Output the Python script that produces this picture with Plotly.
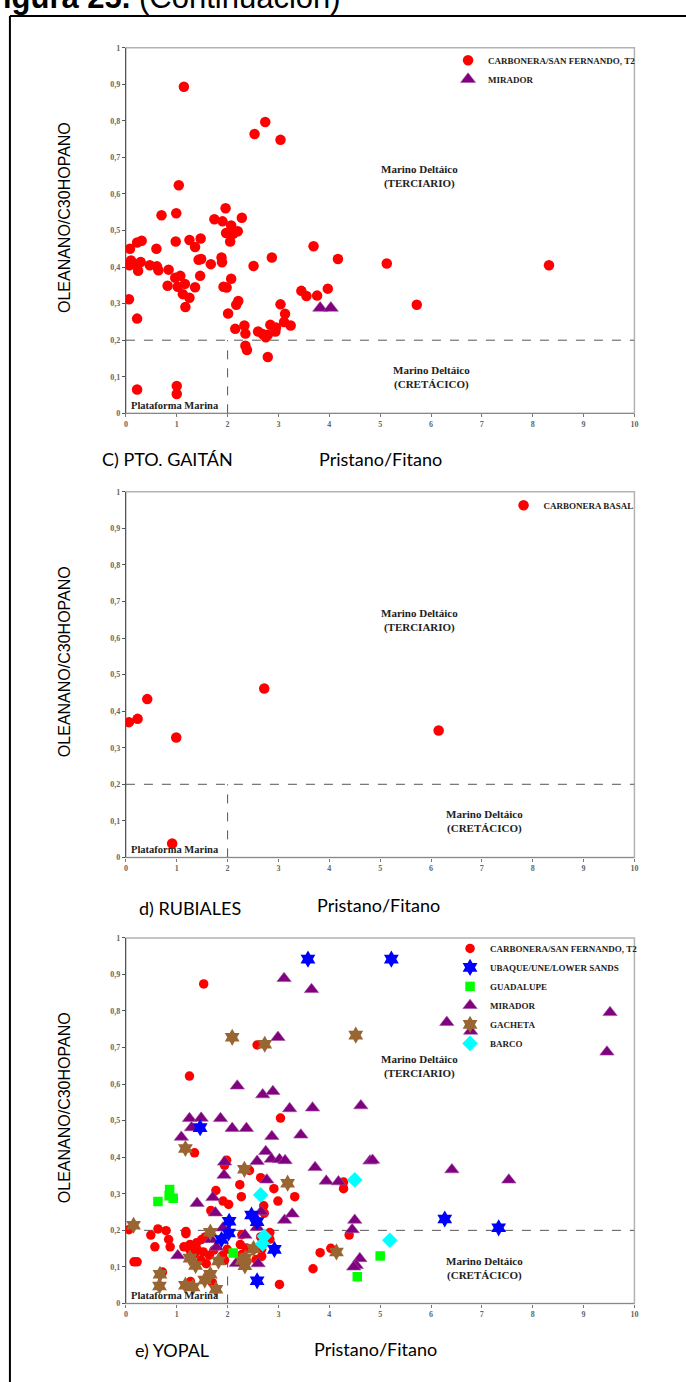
import plotly.graph_objects as go

W, H = 686, 1382

# ---------------- C) PTO. GAITÁN ----------------
gaitan_carbonera_x = [1.14, 2.74, 2.53, 3.04, 1.04, 0.70, 0.99, 1.96, 1.74, 1.90, 2.28, 2.07, 1.97, 2.20,
                      2.11, 2.05, 0.08, 0.22, 0.31, 0.60, 0.98, 1.25, 1.36, 1.47, 0.10, 0.07, 0.29, 0.22,
                      0.24, 0.47, 0.61, 0.64, 0.84, 0.82, 0.97, 1.07, 1.02, 1.16, 1.12, 1.25, 1.17, 1.36,
                      1.46, 1.43, 1.48, 1.67, 1.88, 1.89, 1.92, 1.98, 2.07, 2.01, 2.17, 2.21, 2.15, 2.33,
                      2.35, 2.35, 2.38, 2.51, 2.87, 2.60, 2.69, 2.75, 2.79, 2.84, 2.95, 2.94, 3.04, 3.13,
                      3.11, 3.24, 2.79, 3.45, 3.55, 3.76, 3.69, 3.97, 4.17, 5.13, 5.72, 8.32, 0.06, 0.22,
                      0.22, 1.00, 1.00]
gaitan_carbonera_y = [0.893, 0.797, 0.764, 0.748, 0.624, 0.542, 0.547, 0.561, 0.531, 0.525, 0.535, 0.514,
                      0.493, 0.498, 0.491, 0.470, 0.450, 0.467, 0.472, 0.450, 0.470, 0.474, 0.455, 0.478,
                      0.418, 0.405, 0.414, 0.405, 0.390, 0.405, 0.402, 0.391, 0.393, 0.349, 0.371, 0.376,
                      0.346, 0.354, 0.326, 0.316, 0.291, 0.345, 0.376, 0.420, 0.422, 0.408, 0.426, 0.413,
                      0.346, 0.344, 0.368, 0.273, 0.297, 0.307, 0.231, 0.240, 0.218, 0.185, 0.173, 0.403,
                      0.426, 0.224, 0.217, 0.208, 0.215, 0.242, 0.235, 0.224, 0.298, 0.272, 0.250, 0.240,
                      0.154, 0.335, 0.321, 0.322, 0.457, 0.341, 0.422, 0.410, 0.297, 0.405, 0.312, 0.259,
                      0.065, 0.075, 0.053]
gaitan_mirador_x = [3.82, 4.03]
gaitan_mirador_y = [0.288, 0.288]

# ---------------- d) RUBIALES ----------------
rubiales_basal_x = [0.06, 0.23, 0.42, 0.99, 2.72, 6.15, 0.91]
rubiales_basal_y = [0.370, 0.379, 0.433, 0.328, 0.462, 0.347, 0.038]

# ---------------- e) YOPAL ----------------
yopal_carbonera_x = [1.53, 2.58, 1.25, 3.04, 1.35, 1.98, 1.94, 2.43, 2.65, 2.24, 2.91, 4.28, 4.28, 1.77,
                     2.27, 3.32, 1.91, 2.02, 2.99, 2.71, 1.67, 2.72, 0.06, 0.63, 0.79, 1.18, 1.18, 0.49,
                     0.84, 0.57, 0.87, 1.14, 1.26, 1.39, 1.49, 1.56, 1.26, 1.40, 1.52, 1.36, 1.64, 1.73,
                     1.90, 1.99, 1.94, 1.48, 1.58, 0.16, 0.22, 0.72, 1.27, 1.70, 2.25, 2.37, 2.28, 2.83,
                     2.83, 2.67, 2.67, 2.56, 2.65, 4.39, 4.03, 3.82, 3.68, 3.02, 2.28]
yopal_carbonera_y = [0.874, 0.707, 0.622, 0.507, 0.412, 0.392, 0.378, 0.364, 0.344, 0.325, 0.314, 0.332,
                     0.314, 0.309, 0.292, 0.292, 0.280, 0.271, 0.280, 0.267, 0.254, 0.247, 0.202, 0.204,
                     0.199, 0.197, 0.191, 0.187, 0.175, 0.155, 0.155, 0.155, 0.161, 0.166, 0.175, 0.182,
                     0.146, 0.148, 0.141, 0.136, 0.132, 0.146, 0.131, 0.148, 0.118, 0.118, 0.109, 0.114,
                     0.114, 0.086, 0.060, 0.057, 0.161, 0.152, 0.188, 0.194, 0.176, 0.148, 0.129, 0.120,
                     0.182, 0.187, 0.151, 0.139, 0.095, 0.052, 0.134]
yopal_ubaque_x = [3.58, 5.22, 1.46, 6.27, 7.33, 2.03, 2.02, 1.88, 2.47, 2.58, 2.92, 2.58]
yopal_ubaque_y = [0.942, 0.942, 0.481, 0.231, 0.207, 0.225, 0.193, 0.175, 0.242, 0.224, 0.148, 0.062]
yopal_guadalupe_x = [0.63, 0.86, 0.85, 0.93, 2.11, 5.00, 4.55]
yopal_guadalupe_y = [0.279, 0.312, 0.295, 0.288, 0.138, 0.130, 0.073]
yopal_mirador_x = [3.11, 3.65, 2.99, 6.31, 6.78, 9.52, 9.46, 2.19, 2.69, 2.89, 3.22, 3.67, 4.62, 1.25,
                   1.48, 1.29, 1.86, 2.09, 2.37, 1.09, 2.87, 3.44, 2.75, 2.86, 3.02, 3.13, 2.58, 1.94,
                   4.80, 4.85, 3.72, 6.41, 1.93, 2.77, 3.94, 4.18, 7.53, 1.40, 1.71, 1.76, 2.66, 3.12,
                   3.27, 4.50, 4.45, 1.91, 2.34, 1.68, 1.78, 1.02, 2.58, 2.17, 2.60, 4.60, 4.53, 4.48]
yopal_mirador_y = [0.889, 0.859, 0.728, 0.769, 0.745, 0.796, 0.688, 0.595, 0.571, 0.580, 0.533, 0.535,
                   0.541, 0.506, 0.507, 0.481, 0.506, 0.479, 0.479, 0.455, 0.457, 0.461, 0.416, 0.395,
                   0.394, 0.391, 0.389, 0.387, 0.390, 0.392, 0.372, 0.366, 0.351, 0.338, 0.335, 0.333,
                   0.338, 0.274, 0.290, 0.248, 0.251, 0.228, 0.245, 0.228, 0.202, 0.207, 0.187, 0.175,
                   0.154, 0.131, 0.208, 0.110, 0.109, 0.123, 0.104, 0.100]
yopal_gacheta_x = [2.09, 2.73, 4.52, 1.17, 2.33, 3.18, 0.15, 4.14, 1.66, 2.51, 1.26, 1.37, 1.82, 2.28,
                   2.34, 0.67, 0.66, 1.17, 1.32, 1.55, 1.66, 1.77, 2.35]
yopal_gacheta_y = [0.728, 0.709, 0.734, 0.424, 0.367, 0.329, 0.214, 0.141, 0.195, 0.150, 0.124, 0.104,
                   0.116, 0.118, 0.103, 0.080, 0.048, 0.050, 0.045, 0.064, 0.080, 0.039, 0.125]
yopal_barco_x = [4.50, 2.65, 2.72, 2.69, 5.19]
yopal_barco_y = [0.338, 0.297, 0.184, 0.163, 0.173]

# axis ticks
x_ticks = list(range(0, 11))
y_ticks = [0, 0.1, 0.2, 0.3, 0.4, 0.5, 0.6, 0.7, 0.8, 0.9, 1]
y_ticktext = ["0", "0,1", "0,2", "0,3", "0,4", "0,5", "0,6", "0,7", "0,8", "0,9", "1"]

# field boundaries
OLEANANE_LIMIT = 0.2
PR_PH_LIMIT = 2

# ---------------- layout geometry (pixels) ----------------
PLOT_LEFT, PLOT_RIGHT = 125, 638
PANELS = [(44, 412), (491, 859), (940, 1308)]


def fx(px):
    return px / W


def fy(py):
    return 1 - py / H


RED, PURPLE, BLUE, GREEN, BROWN, CYAN = "#ff0000", "#800080", "#0000ff", "#00ff00", "#996633", "#00ffff"
SERIF = "Liberation Serif"

fig = go.Figure()


def add(xs, ys, name, symbol, color, size, panel, edge=None):
    sfx = "" if panel == 1 else str(panel)
    fig.add_trace(go.Scatter(
        x=xs, y=ys, mode="markers", name=name,
        xaxis="x" + sfx, yaxis="y" + sfx, legend="legend" + sfx,
        marker=dict(symbol=symbol, color=color, size=size,
                    line=dict(width=0.6 if edge else 0, color=edge or color)),
        showlegend=True,
    ))


add(gaitan_carbonera_x, gaitan_carbonera_y, "CARBONERA/SAN FERNANDO, T2", "circle", RED, 10.5, 1)
add(gaitan_mirador_x, gaitan_mirador_y, "MIRADOR", "triangle-up", PURPLE, 13, 1, "#a050a0")

add(rubiales_basal_x, rubiales_basal_y, "CARBONERA BASAL", "circle", RED, 10.5, 2)

add(yopal_carbonera_x, yopal_carbonera_y, "CARBONERA/SAN FERNANDO, T2", "circle", RED, 9.5, 3)
add(yopal_mirador_x, yopal_mirador_y, "MIRADOR", "triangle-up", PURPLE, 12.5, 3, "#a050a0")
add(yopal_gacheta_x, yopal_gacheta_y, "GACHETA", "hexagram", BROWN, 13, 3)
add(yopal_guadalupe_x, yopal_guadalupe_y, "GUADALUPE", "square", GREEN, 9.5, 3)
add(yopal_barco_x, yopal_barco_y, "BARCO", "diamond", CYAN, 12, 3)
add(yopal_ubaque_x, yopal_ubaque_y, "UBAQUE/UNE/LOWER SANDS", "hexagram", BLUE, 13, 3)

legend_order = {
    "CARBONERA/SAN FERNANDO, T2": 1, "UBAQUE/UNE/LOWER SANDS": 2, "GUADALUPE": 3,
    "MIRADOR": 4, "GACHETA": 5, "BARCO": 6, "CARBONERA BASAL": 1,
}
for tr in fig.data:
    tr.legendrank = legend_order[tr.name]

tick_font = dict(family=SERIF, size=8, color="#666666", weight="bold")
shapes, annotations = [], []
layout = {}
for i, (top, bottom) in enumerate(PANELS, start=1):
    sfx = "" if i == 1 else str(i)
    layout["xaxis" + sfx] = dict(
        domain=[fx(PLOT_LEFT), fx(PLOT_RIGHT)], anchor="y" + sfx, range=[0, 10],
        tickvals=x_ticks, ticktext=[str(v) for v in x_ticks], ticks="outside", ticklen=3,
        tickcolor="#777777", showline=True, linecolor="#888888", linewidth=1.2,
        showgrid=False, zeroline=False, tickfont=tick_font, fixedrange=True,
    )
    layout["yaxis" + sfx] = dict(
        domain=[fy(bottom), fy(top)], anchor="x" + sfx, range=[0, 1],
        tickvals=y_ticks, ticktext=y_ticktext, ticks="outside", ticklen=3,
        tickcolor="#555555", showline=True, linecolor="#555555", linewidth=1.2,
        showgrid=False, zeroline=False, tickfont=tick_font, fixedrange=True,
    )
    xr, yr = "x" + sfx, "y" + sfx
    # plot frame
    shapes.append(dict(type="rect", xref=xr + " domain", yref=yr + " domain", x0=0, x1=1, y0=0, y1=1,
                       line=dict(color="#b3b3b3", width=1.5), layer="below"))
    # boundaries between depositional fields
    shapes.append(dict(type="line", xref=xr, yref=yr, x0=0, x1=10, y0=OLEANANE_LIMIT, y1=OLEANANE_LIMIT,
                       line=dict(color="#555555", width=1, dash="dash"), layer="below"))
    shapes.append(dict(type="line", xref=xr, yref=yr, x0=PR_PH_LIMIT, x1=PR_PH_LIMIT, y0=0, y1=OLEANANE_LIMIT,
                       line=dict(color="#555555", width=1, dash="dash"), layer="below"))
    field_font = dict(family=SERIF, size=11, color="#222222", weight="bold")
    lower_x = 6.0 if i == 1 else 7.06
    annotations += [
        dict(xref=xr, yref=yr, x=5.77, y=0.649, text="Marino Deltáico<br>(TERCIARIO)", showarrow=False,
             font=field_font, align="center"),
        dict(xref=xr, yref=yr, x=lower_x, y=0.097, text="Marino Deltáico<br>(CRETÁCICO)", showarrow=False,
             font=field_font, align="center"),
        dict(xref=xr, yref=yr, x=0.06, y=0.022, text="Plataforma Marina", showarrow=False,
             xanchor="left", font=dict(family=SERIF, size=10.5, color="#222222", weight="bold")),
    ]
    # y-axis title
    annotations.append(dict(xref="paper", yref="paper", x=fx(63), y=fy((top + bottom) / 2 - 13),
                            xanchor="center", yanchor="middle",
                            text="OLEANANO/C30HOPANO", textangle=-90, showarrow=False,
                            font=dict(family="Liberation Sans", size=16, color="#000000")))

captions = [("C) PTO. GAITÁN", 99, 458, 318, 458),
            ("d) RUBIALES", 136, 910, 316, 907),
            ("e) YOPAL", 132, 1355, 313, 1354)]
cap_font = dict(family="Lato", size=18, color="#000000")
for label, lx, ly, px_, py_ in captions:
    annotations.append(dict(xref="paper", yref="paper", x=fx(lx), y=fy(ly), xanchor="left", yanchor="middle",
                            text=label, showarrow=False, font=cap_font))
    annotations.append(dict(xref="paper", yref="paper", x=fx(px_), y=fy(py_), xanchor="left",
                            yanchor="middle", text="Pristano/Fitano", showarrow=False, font=cap_font))

# figure heading
annotations.append(dict(xref="paper", yref="paper", x=fx(-20), y=fy(-7), xanchor="left", yanchor="middle",
                        text="<b>Figura 25.</b> (Continuación)", showarrow=False,
                        font=dict(family="Liberation Sans", size=31, color="#000000")))

# page frame
shapes.append(dict(type="line", xref="paper", yref="paper", x0=fx(8), x1=fx(8), y0=fy(12), y1=fy(1400),
                   line=dict(color="#000000", width=2)))
shapes.append(dict(type="line", xref="paper", yref="paper", x0=fx(8), x1=fx(700), y0=fy(12), y1=fy(12),
                   line=dict(color="#000000", width=2)))

leg_font = dict(family=SERIF, size=9, color="#222222", weight="bold")
legend_pos = [(450, 42), (506, 490), (452, 936)]
for i, (lx, ly) in enumerate(legend_pos, start=1):
    sfx = "" if i == 1 else str(i)
    layout["legend" + sfx] = dict(x=fx(lx), y=fy(ly), xanchor="left", yanchor="top", font=leg_font,
                                  bgcolor="rgba(0,0,0,0)", borderwidth=0, tracegroupgap=0,
                                  itemclick=False, itemdoubleclick=False)

fig.update_layout(
    width=W, height=H, margin=dict(l=0, r=0, t=0, b=0), autosize=False,
    paper_bgcolor="white", plot_bgcolor="white",
    shapes=shapes, annotations=annotations, showlegend=True, **layout,
)

fig.write_html("out.html")
